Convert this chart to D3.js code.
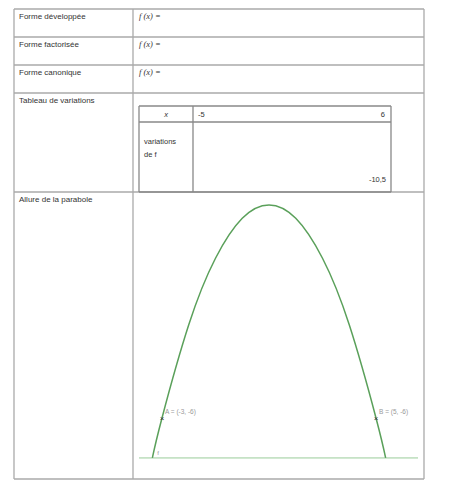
<!DOCTYPE html>
<html><head><meta charset="utf-8">
<script src="https://cdn.jsdelivr.net/npm/d3@7"></script>
<style>body{margin:0;background:#fff}text{font-family:"Liberation Sans",Arial,sans-serif;fill:#333}</style>
</head><body><svg id="c" width="462" height="499"></svg>
<script>
const rowLabels = ["Forme développée","Forme factorisée","Forme canonique","Tableau de variations","Allure de la parabole"];
const formulas = ["f (x) =","f (x) =","f (x) ="];
const varX = ["-5","6"];
const varValue = "-10,5";
const curveX = [-3.36,-3,-2,-1,0,1,2,3,4,5,5.36];
const curveY = [-7.5,-6,-2.5,0,1.5,2,1.5,0,-2.5,-6,-7.5];
const pointsLabel = ["A = (-3, -6)","B = (5, -6)"];
const pointsX = [-3,5], pointsY = [-6,-6];

const svg = d3.select("#c");
const L=14,M=133,R=424, rows=[9,37,65,93,192,479];
const g=svg.append("g");
const line=(x1,y1,x2,y2,c="#aaa",w=1.3)=>g.append("line").attr("x1",x1).attr("y1",y1).attr("x2",x2).attr("y2",y2).attr("stroke",c).attr("stroke-width",w);
rows.forEach(y=>line(L,y,R,y));
line(L,rows[0],L,rows[5]);line(M,rows[0],M,rows[5]);line(R,rows[0],R,rows[5]);
rowLabels.forEach((t,i)=>g.append("text").attr("x",19).attr("y",rows[i]+10).attr("font-size",8).text(t));
formulas.forEach((t,i)=>g.append("text").attr("x",139).attr("y",rows[i]+10).attr("font-size",8.5).attr("font-style","italic").style("font-family","Liberation Serif").text(t));
line(139,106,391,106,"#888");line(139,122,391,122,"#888");line(139,192,391,192,"#888");
line(139,106,139,192,"#888");line(193,106,193,192,"#888");line(391,106,391,192,"#888");
g.append("text").attr("x",166).attr("y",117).attr("font-size",7.5).attr("text-anchor","middle").attr("font-style","italic").text("x");
g.append("text").attr("x",198).attr("y",117).attr("font-size",7.5).text(varX[0]);
g.append("text").attr("x",385).attr("y",117).attr("font-size",7.5).attr("text-anchor","end").text(varX[1]);
g.append("text").attr("x",144).attr("y",144).attr("font-size",7.5).text("variations");
g.append("text").attr("x",144).attr("y",157).attr("font-size",7.5).text("de f");
g.append("text").attr("x",386).attr("y",182).attr("font-size",7.5).attr("text-anchor","end").text(varValue);
const x=d3.scaleLinear().domain([-3,5]).range([162,376]);
const y=d3.scaleLinear().domain([-6,2]).range([418,205]);
line(139,y(-7.5),418,y(-7.5),"#9c9",1);
svg.append("path").datum(curveX.map((d,i)=>[d,curveY[i]]))
 .attr("d",d3.line().x(d=>x(d[0])).y(d=>y(d[1])).curve(d3.curveNatural))
 .attr("fill","none").attr("stroke","#5aa05a").attr("stroke-width",1.5);
pointsX.forEach((px,i)=>{
 svg.append("text").attr("x",x(px)).attr("y",y(pointsY[i])+2.5).attr("font-size",8).attr("text-anchor","middle").style("fill","#333").text("×");
 svg.append("text").attr("x",x(px)+3).attr("y",y(pointsY[i])-4).attr("font-size",6.5).style("fill","#999").text(pointsLabel[i]);
});
svg.append("text").attr("x",x(-3.36)+5).attr("y",y(-7.5)-3).attr("font-size",6).style("fill","#999").text("f");
</script></body></html>
